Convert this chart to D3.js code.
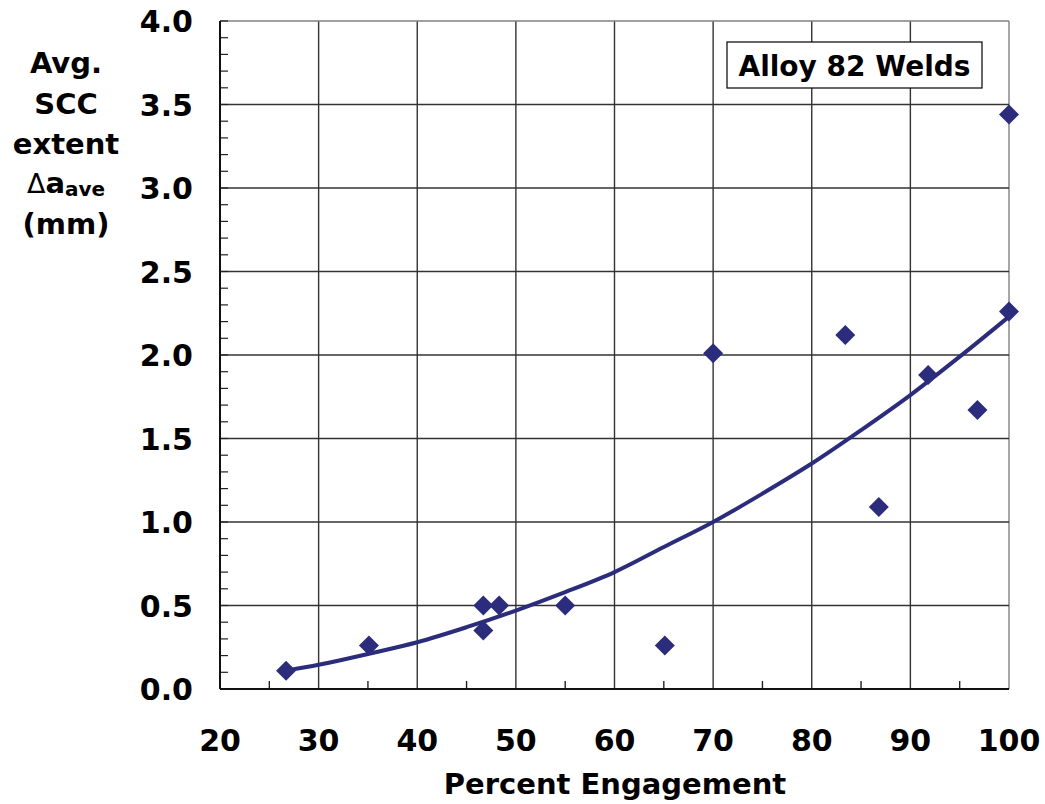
<!DOCTYPE html>
<html>
<head>
<meta charset="utf-8">
<script src="https://cdn.jsdelivr.net/npm/d3@7"></script>
<style>
  body { margin: 0; background: #fff; }
  text { font-family: "DejaVu Sans", Verdana, sans-serif; font-weight: bold; fill: #000; }
</style>
</head>
<body>
<svg id="dessin" width="1045" height="804"></svg>
<script>
// données
const engagement = [26.7, 35.1, 46.7, 46.7, 48.3, 55.0, 65.1, 70.0, 83.4, 86.8, 91.8, 96.8, 100, 100];
const sccExtent  = [0.11, 0.26, 0.50, 0.35, 0.50, 0.50, 0.26, 2.01, 2.12, 1.09, 1.88, 1.67, 2.26, 3.44];

// courbe de tendance
const trendX = [26.7, 30, 35, 40, 45, 50, 55, 60, 65, 70, 75, 80, 85, 90, 95, 100];
const trendY = [0.11, 0.145, 0.21, 0.28, 0.37, 0.47, 0.58, 0.70, 0.85, 1.00, 1.17, 1.35, 1.55, 1.76, 1.99, 2.23];

const xTicks = [20, 30, 40, 50, 60, 70, 80, 90, 100];
const xMinor = [25, 35, 45, 55, 65, 75, 85, 95];
const yTicks = [0, 0.5, 1, 1.5, 2, 2.5, 3, 3.5, 4];
const yMinor = d3.range(0, 41).map(i => i / 10);

const yTitle = ["Avg.", "SCC", "extent"];
const boxLabel = "Alloy 82 Welds";
const xTitle = "Percent Engagement";

const navy = "#2b2c7c";

const svg = d3.select("#dessin");
const gauche = 220, droite = 1009, haut = 21, bas = 689;

const x = d3.scaleLinear().domain([20, 100]).range([gauche, droite]);
const y = d3.scaleLinear().domain([0, 4]).range([bas, haut]);

// grille
svg.append("g")
    .selectAll("line")
    .data(xTicks.slice(1))
    .enter()
    .append("line")
    .attr("x1", d => x(d)).attr("x2", d => x(d))
    .attr("y1", haut).attr("y2", bas)
    .style("stroke", d => d == 100 ? "#808080" : "#333")
    .style("stroke-width", 1.4)

svg.append("g")
    .selectAll("line")
    .data(yTicks.slice(1))
    .enter()
    .append("line")
    .attr("x1", gauche).attr("x2", droite)
    .attr("y1", d => y(d)).attr("y2", d => y(d))
    .style("stroke", d => d == 4 ? "#808080" : "#333")
    .style("stroke-width", 1.4)

// petites graduations
svg.append("g")
    .selectAll("line")
    .data(yMinor)
    .enter()
    .append("line")
    .attr("x1", gauche).attr("x2", gauche + 8)
    .attr("y1", d => y(d)).attr("y2", d => y(d))
    .style("stroke", "#222")
    .style("stroke-width", 1.2)

svg.append("g")
    .selectAll("line")
    .data(xMinor)
    .enter()
    .append("line")
    .attr("x1", d => x(d)).attr("x2", d => x(d))
    .attr("y1", bas).attr("y2", bas - 8)
    .style("stroke", "#222")
    .style("stroke-width", 1.4)

// axes
svg.append("line")
    .attr("x1", gauche).attr("x2", gauche).attr("y1", haut).attr("y2", bas)
    .style("stroke", "#111").style("stroke-width", 2)
svg.append("line")
    .attr("x1", gauche).attr("x2", droite).attr("y1", bas).attr("y2", bas)
    .style("stroke", "#111").style("stroke-width", 2)

// étiquettes des axes
svg.append("g")
    .selectAll("text")
    .data(yTicks)
    .enter()
    .append("text")
    .attr("x", 193)
    .attr("y", d => y(d) + 11)
    .attr("text-anchor", "end")
    .style("font-size", "30px")
    .text(d => d.toFixed(1))

svg.append("g")
    .selectAll("text")
    .data(xTicks)
    .enter()
    .append("text")
    .attr("x", d => x(d))
    .attr("y", 751)
    .attr("text-anchor", "middle")
    .style("font-size", "30px")
    .text(d => d)

svg.append("text")
    .attr("x", 615).attr("y", 794)
    .attr("text-anchor", "middle")
    .style("font-size", "29px")
    .text(xTitle)

const yBaselines = [73, 114, 154];
svg.append("g")
    .selectAll("text")
    .data(yTitle)
    .enter()
    .append("text")
    .attr("x", 66)
    .attr("y", (d, i) => yBaselines[i])
    .attr("text-anchor", "middle")
    .style("font-size", "29px")
    .text(d => d)

const delta = svg.append("text")
    .attr("x", 66).attr("y", 193)
    .attr("text-anchor", "middle")
    .style("font-size", "29px")
delta.append("tspan").text("\u0394").style("font-weight", "normal").style("font-size", "27px")
delta.append("tspan").text("a")
delta.append("tspan").text("ave").attr("dy", 3).style("font-size", "20px")

svg.append("text")
    .attr("x", 66).attr("y", 234)
    .attr("text-anchor", "middle")
    .style("font-size", "29px")
    .text("(mm)")

// encadré
svg.append("rect")
    .attr("x", 727).attr("y", 42).attr("width", 255).attr("height", 46)
    .style("fill", "#fff").style("stroke", "#000").style("stroke-width", 1.2)
svg.append("text")
    .attr("x", 854.5).attr("y", 76)
    .attr("text-anchor", "middle")
    .style("font-size", "28px")
    .text(boxLabel)

// courbe de tendance
const trend = trendX.map((v, i) => [v, trendY[i]]);
svg.append("path")
    .datum(trend)
    .attr("d", d3.line().x(d => x(d[0])).y(d => y(d[1])).curve(d3.curveMonotoneX))
    .style("fill", "none")
    .style("stroke", navy)
    .style("stroke-width", 4)

// points
const points = engagement.map((v, i) => ({ e: v, a: sccExtent[i] }));
svg.append("g")
    .selectAll("path")
    .data(points)
    .enter()
    .append("path")
    .attr("d", d3.symbol(d3.symbolSquare, 200))
    .attr("transform", d => `translate(${x(d.e)},${y(d.a)}) rotate(45)`)
    .style("fill", navy)
</script>
</body>
</html>
